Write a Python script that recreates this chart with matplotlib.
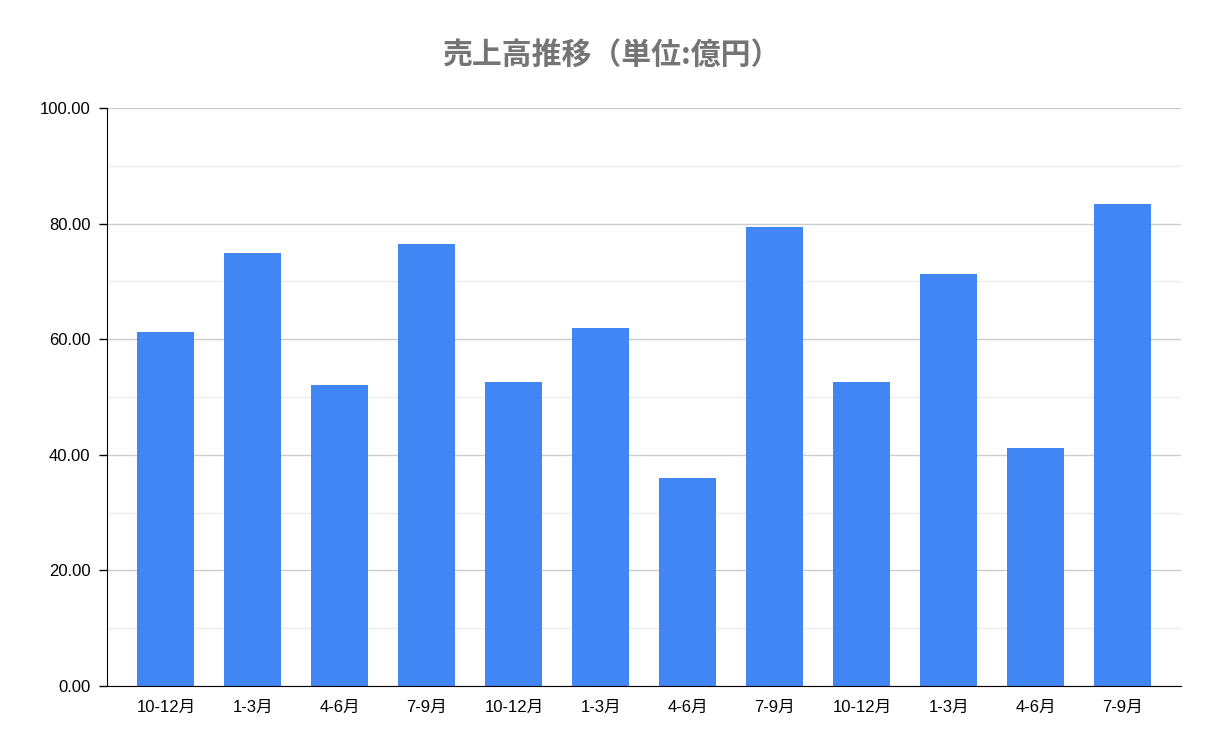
import matplotlib
matplotlib.use("Agg")
import matplotlib.pyplot as plt
import numpy as np

categories = ["10-12月", "1-3月", "4-6月", "7-9月", "10-12月", "1-3月",
              "4-6月", "7-9月", "10-12月", "1-3月", "4-6月", "7-9月"]
sales = [61.2, 74.9, 52.1, 76.5, 52.6, 61.9, 36.0, 79.4, 52.6, 71.3, 41.2, 83.4]
title = "売上高推移（単位:億円）"

fam = ["Liberation Sans", "Noto Sans CJK JP", "DejaVu Sans"]
plt.rcParams['font.family'] = fam

fig = plt.figure(figsize=(12.19, 7.54), dpi=100)
ax = fig.add_axes([107/1219, 1-686/754, (1181-107)/1219, (686-108)/754])

x = np.arange(len(categories))
ax.bar(x, sales, width=0.655, color="#4285f4", zorder=3)

ax.set_xlim(-0.678, 11.667)
ax.set_ylim(0, 100)
ax.set_yticks(np.arange(0, 101, 20))
ax.set_yticks(np.arange(10, 100, 20), minor=True)
ax.set_yticklabels([f"{v:.2f}" for v in np.arange(0, 101, 20)], fontsize=12)
ax.set_xticks(x)
ax.set_xticklabels(categories, fontsize=12, family=["Liberation Sans", "Noto Sans CJK JP"])
ax.tick_params(axis='x', length=0, pad=10)
ax.tick_params(axis='y', which='major', length=6, width=1, color='black', pad=6)
ax.tick_params(axis='y', which='minor', length=0)
ax.grid(axis='y', which='major', color='#cccccc', linewidth=1, zorder=0)
ax.grid(axis='y', which='minor', color='#ececec', linewidth=1, zorder=0)
for s in ['top', 'right']:
    ax.spines[s].set_visible(False)
ax.spines['left'].set_color('black')
ax.spines['bottom'].set_color('black')
ax.spines['left'].set_zorder(4)
ax.spines['bottom'].set_zorder(4)

fig.text(611/1219, 1-55/754, title, ha='center', va='center', fontsize=21.5,
         fontweight='bold', color='#757575', family=["Noto Sans CJK JP", "DejaVu Sans"])

fig.savefig("out.png", dpi=100)
